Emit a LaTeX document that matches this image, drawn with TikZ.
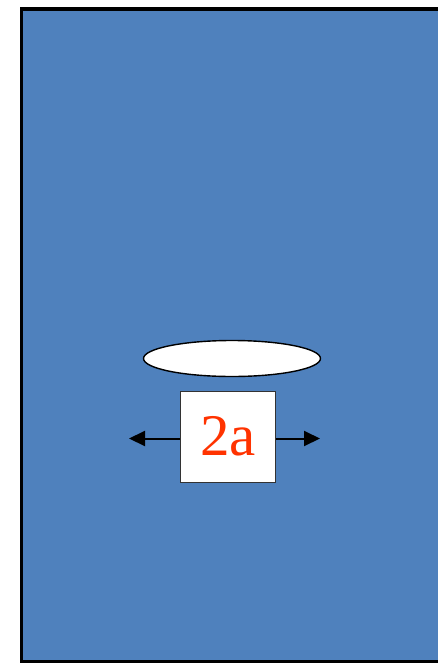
\documentclass[tikz,border=0pt]{standalone}
\usepackage{fontspec}
\setmainfont{Liberation Serif}
\usetikzlibrary{shapes.geometric,arrows.meta}
\definecolor{panelblue}{RGB}{79,129,189}
\definecolor{labelred}{RGB}{255,51,0}
\tikzset{
  panel/.style={fill=panelblue,draw=black,line width=3.5pt},
  lens/.style={ellipse,draw=black,fill=white,line width=1.4pt,minimum width=177pt,minimum height=36pt,inner sep=0pt},
  labelbox/.style={draw=black!80,fill=white,line width=0.6pt,minimum width=95pt,minimum height=91pt,inner sep=0pt,text=labelred},
  pusharrow/.style={-{Triangle[length=16pt,width=15pt]},line width=2pt,black}
}
\begin{document}
\begin{tikzpicture}[x=1pt,y=-1pt]
\useasboundingbox (0,0) rectangle (438,664);
\fill[white] (0,0) rectangle (438,664);
\draw[panel] (21.5,9) rectangle (450,661.5);
\node[lens] (lens) at (232,358.5) {};
\node[labelbox] (box) at (228,436.5) {\fontsize{59}{59}\selectfont 2a};
\coordinate (lefttip) at (129,438.5);
\coordinate (righttip) at (320,438.5);
\draw[pusharrow] (box.west |- lefttip) -- (lefttip);
\draw[pusharrow] (box.east |- righttip) -- (righttip);
\end{tikzpicture}
\end{document}
